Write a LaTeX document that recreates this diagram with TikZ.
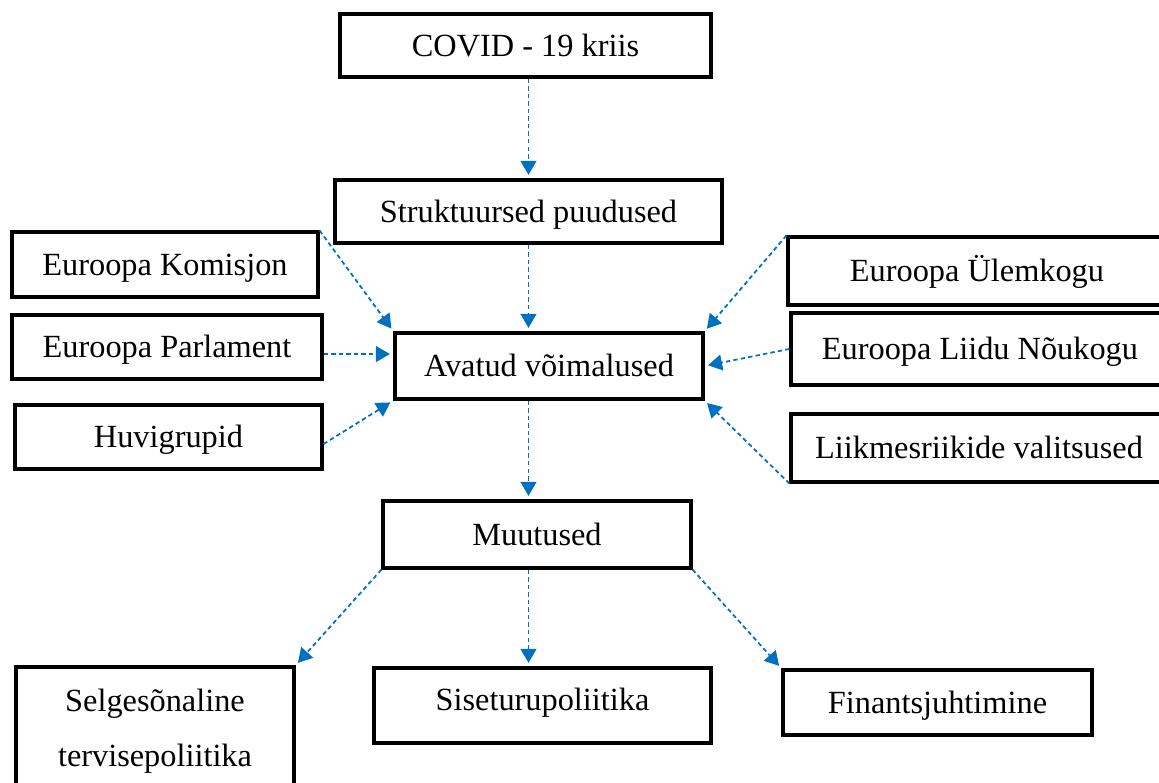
\documentclass[tikz,border=0pt]{standalone}
\usepackage{fontspec}
\setmainfont{Liberation Serif}
\usetikzlibrary{arrows.meta}
\definecolor{flowblue}{RGB}{0,112,192}
\tikzstyle{box}=[draw=black, line width=1.8pt, text height=12pt, text depth=0pt, inner sep=0pt, font=\fontsize{18.4}{31}\selectfont]
\tikzstyle{flow}=[flowblue, line width=1pt, dash pattern=on 2.5pt off 1.8pt, -{Triangle[width=9pt,length=8pt]}, shorten >=2pt]

\begin{document}
\begin{tikzpicture}[x=0.02cm,y=-0.02cm]

        \clip (0,0) rectangle (1159,783);

        % top of the chain
        \node [box, minimum width=7.42cm, minimum height=1.26cm] (covid) at (525.5,45.5) {COVID - 19 kriis};

        \node [box, minimum width=7.74cm, minimum height=1.26cm] (struk) at (528.5,211.5) {Struktuursed puudused};

        \node [box, minimum width=6.16cm, minimum height=1.32cm] (avatud) at (549,366) {Avatud võimalused};

        \node [box, minimum width=6.16cm, minimum height=1.34cm] (muutused) at (537,534.5) {Muutused};

        % left side
        \node [box, minimum width=6.12cm, minimum height=1.30cm] (komisjon) at (165,264.5) {Euroopa Komisjon};

        \node [box, minimum width=6.2cm, minimum height=1.28cm] (parlament) at (167,347) {Euroopa Parlament};

        \node [box, minimum width=6.14cm, minimum height=1.28cm] (huvi) at (168.5,437) {Huvigrupid};

        % right side
        \node [box, minimum width=7.56cm, minimum height=1.36cm] (ylemkogu) at (977,271) {Euroopa Ülemkogu};

        \node [box, minimum width=7.56cm, minimum height=1.44cm] (noukogu) at (980,349) {Euroopa Liidu Nõukogu};

        \node [box, minimum width=7.52cm, minimum height=1.36cm] (valitsused) at (979,448) {Liikmesriikide valitsused};

        % bottom row
        \node [box, align=center, text height=, text depth=, minimum width=5.56cm, minimum height=2.56cm] (selges) at (155,731) {Selgesõnaline\\tervisepoliitika};

        \node [box, minimum width=6.74cm, minimum height=1.5cm] (siseturu) at (542.5,705.5) {\raisebox{3pt}{Siseturupoliitika}};

        \node [box, minimum width=6.18cm, minimum height=1.3cm] (finants) at (937.5,702.5) {Finantsjuhtimine};

        % arrows
        \draw [flow] (struk.north |- covid.south) -- (struk.north);
        \draw [flow] (struk.south) -- (struk.south |- avatud.north);

        \draw [flow] (komisjon.north east) -- (avatud.north west);
        \draw [flow] ([yshift=-4pt]parlament.east) -- ([yshift=-4pt]parlament.east -| avatud.west);
        \draw [flow] ([yshift=-4pt]huvi.east) -- (avatud.south west);

        \draw [flow] (ylemkogu.north west) -- (avatud.north east);
        \draw [flow] (noukogu.west) -- (avatud.east);
        \draw [flow] (valitsused.south west) -- (avatud.south east);

        \draw [flow] (avatud.south -| struk.south) -- (muutused.north -| struk.south);

        \draw [flow] (muutused.south west) -- (selges.north east);
        \draw [flow] (muutused.south -| struk.south) -- (siseturu.north -| struk.south);
        \draw [flow] (muutused.south east) -- (finants.north west);

\end{tikzpicture}
\end{document}
